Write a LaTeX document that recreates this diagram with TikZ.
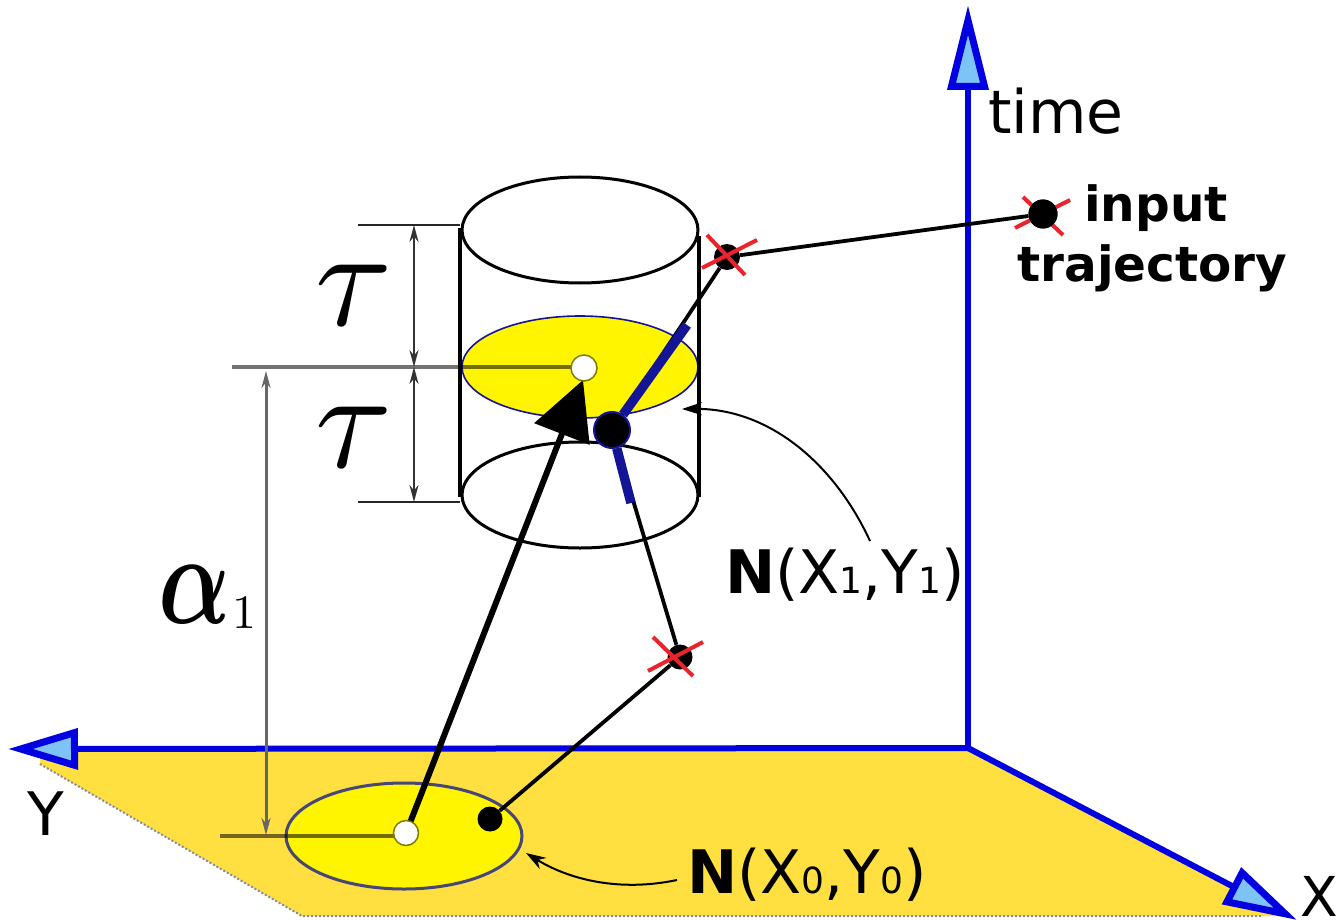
\documentclass[tikz,border=0pt]{standalone}
\usepackage{graphicx}
\usepackage{fontspec}
\setmainfont{DejaVu Sans}
\usetikzlibrary{arrows.meta}
\definecolor{planeyellow}{RGB}{255,224,64}
\definecolor{discyellow}{RGB}{255,245,0}
\definecolor{axisblue}{RGB}{0,0,225}
\definecolor{headblue}{RGB}{125,195,245}
\definecolor{crossred}{RGB}{235,35,45}
\definecolor{discline}{RGB}{20,20,150}
\definecolor{lowline}{RGB}{70,70,120}
\tikzset{
  axisline/.style={draw=axisblue,line width=6pt,line cap=butt,-{Triangle[length=#1,width=40pt,line width=7pt,fill=headblue]}},
  plane/.style={fill=planeyellow,draw=none},
  planeedge/.style={draw=black!45,line width=2pt,dotted},
  cyl/.style={draw=black,line width=3pt},
  cylside/.style={draw=black,line width=3.5pt},
  disc/.style={fill=discyellow,draw=discline,line width=2pt},
  tick/.style={draw=black!85,line width=2.4pt},
  dimline/.style={draw=black!80,line width=2.2pt,{Stealth[length=17pt,width=9pt]}-{Stealth[length=17pt,width=9pt]}},
  overline/.style={draw=black,opacity=.55,line width=3.2pt},
  traj/.style={draw=black,line width=3.8pt},
  thickblue/.style={draw=discline,line width=9.5pt},
  mainarrow/.style={draw=black,line width=6pt,-{Triangle[length=58pt,width=58pt]}},
  pointer/.style={draw=black,line width=2pt,-{Stealth[length=20pt,width=13pt]}},
  dot/.style={circle,fill=black,inner sep=0pt,minimum size=#1},
  hollow/.style={circle,fill=white,draw=discyellow!50!black,line width=1.5pt,inner sep=0pt,minimum size=#1},
  redx/.style={draw=crossred,line width=4pt},
  big/.style={font=\fontsize{60}{60}\selectfont,inner sep=0pt},
  bold/.style={font=\fontsize{48.5}{56}\selectfont\bfseries,inner sep=0pt,align=left},
  lab/.style={font=\fontsize{60}{60}\selectfont,inner sep=0pt},
  mathlab/.style={inner sep=0pt,anchor=base},
}
\newcommand{\dg}[1]{{\fontsize{36}{36}\selectfont #1}}
\newcommand{\bigalpha}{\scalebox{9.5}[13]{\mbox{\boldmath$\alpha$}}}
\begin{document}
\begin{tikzpicture}[x=1pt,y=-1pt]
\useasboundingbox (0,0) rectangle (1343,920);
\fill[white] (0,0) rectangle (1343,920);
% named anchors
\coordinate (O) at (968,748);
\coordinate (T) at (968,5);
\coordinate (Ytip) at (8,749);
\coordinate (Xtip) at (1297,920);
\coordinate (PL) at (40,764);
\coordinate (PB) at (302,916);
\coordinate (PR) at (1262,916);
% plane
\fill[plane] (O) -- (1285,916) -- (PB) -- (PL) -- (40,749) -- cycle;
\draw[planeedge] (PL) -- (PB) -- (PR);
% ellipses
\coordinate (E0) at (404,836);
\draw[disc,draw=lowline,line width=3pt] (E0) ellipse [x radius=118pt,y radius=53pt];
\coordinate (ET) at (580,230);
\coordinate (EM) at (580,367);
\coordinate (EB) at (580,495);
\draw[disc,line width=1.6pt] (EM) ellipse [x radius=118pt,y radius=51pt];
\draw[cyl] (ET) ellipse [x radius=118pt,y radius=53pt];
\draw[cyl] (EB) ellipse [x radius=118pt,y radius=53pt];
\draw[cylside] (460,228) -- (460,497);
\draw[cylside] (699,236) -- (699,497);
% axes
\draw[axisline=85pt] (O) -- (T);
\draw[axisline=70pt] (O) -- (Ytip);
\draw[axisline=74pt] (O) -- (Xtip);
% dimension lines
\draw[tick] (358,225) -- (460,225);
\draw[tick] (358,502) -- (460,502);
\draw[overline] (232,367) -- (572,367);
\coordinate (Da) at (414,225);
\coordinate (Db) at (414,367);
\coordinate (Dc) at (414,502);
\coordinate (Dd) at (266,371);
\coordinate (De) at (266,835);
\draw[dimline] (Da) -- (Db);
\draw[dimline] (Db) -- (Dc);
\draw[dimline,draw=black!60,line width=3pt] (Dd) -- (De);
\draw[overline] (220,836) -- (396,836);
% trajectory points
\coordinate (C1c) at (584,368);
\node[dot=25pt] (P0) at (490,819) {};
\node[dot=36pt,draw=discline,line width=2pt] (P1) at (612,430) {};
\node[dot=25pt] (K1) at (680,657) {};
\node[dot=26pt] (K2) at (727,257) {};
\node[dot=29pt] (K3) at (1043,214) {};
\coordinate (C0c) at (406,833);
\coordinate (B1) at (687,325);
\coordinate (B2) at (631,503);
\draw[traj] (P0) -- (K1);
\draw[traj] (K1) -- (P1);
\draw[traj] (P1) -- (K2);
\draw[traj] (K2) -- (K3);
\draw[thickblue] (P1) -- (B1);
\draw[thickblue] (P1) -- (B2);
\draw[mainarrow] (C0c) -- ([xshift=-1pt,yshift=-12pt]C1c);
\node[hollow=26pt] (C1) at (C1c) {};
\node[hollow=25pt] (C0) at (C0c) {};
% red crosses
\draw[redx] (707,235) -- (745,275) (702,268) -- (757,240);
\draw[redx] (653,637) -- (693,676) (648,671) -- (703,642);
\draw[redx] (1023,197) -- (1063,235) (1015,228) -- (1070,200);
\node[dot=29pt] at (K3) {};
% pointers
\coordinate (Q1) at (682,409);
\coordinate (R1) at (870,541);
\coordinate (Q0) at (526,853);
\coordinate (R0) at (677,880);
\draw[pointer] (R1) .. controls (835,465) and (770,408) .. (Q1);
\draw[pointer] (R0) .. controls (620,892) and (570,880) .. (Q0);
% labels
\node[big,anchor=base west] (ltime) at (988,134) {time};
\node[big,anchor=base west] (lY) at (27,835) {Y};
\node[anchor=base west,inner sep=0pt,font=\fontsize{55}{55}\selectfont] (lX) at (1300,916) {X};
\node[bold,anchor=base west] (lin) at (1084,221) {input};
\node[bold,anchor=base west] (ltr) at (1017,281) {trajectory};
\node[lab,anchor=base west] (lN1) at (725,593) {\textbf{N}(X\dg{1},Y\dg{1})};
\node[lab,anchor=base west] (lN0) at (687,893) {\textbf{N}(X\dg{0},Y\dg{0})};
\node[mathlab] (t1) at (354,325) {\scalebox{14}{$\tau$}};
\node[mathlab] (t2) at (354,467) {\scalebox{14}{$\tau$}};
\node[mathlab] (a1) at (195,623) {\bigalpha};
\node[mathlab] (a1s) at (244,628) {\scalebox{4.8}{$1$}};
\end{tikzpicture}
\end{document}
